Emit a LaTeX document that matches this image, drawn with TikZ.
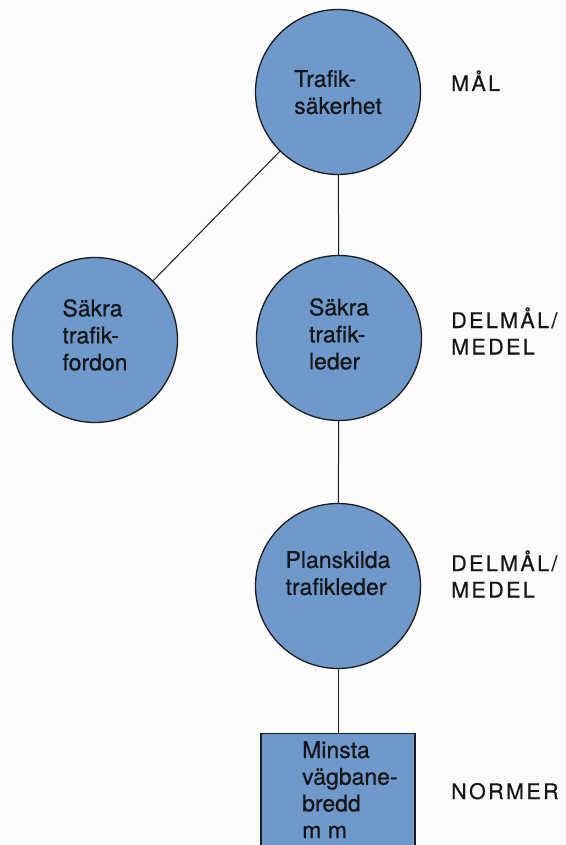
\documentclass[tikz,border=0pt]{standalone}
\usepackage{fontspec}
\setmainfont{TeX Gyre Heros}[FakeBold=0.6]
\newfontfamily\labelfont{TeX Gyre Heros}[LetterSpace=11,FakeBold=0.5]

\definecolor{diskfill}{RGB}{110,153,202}
\definecolor{inkline}{RGB}{28,28,30}
\definecolor{inktext}{RGB}{22,22,24}
\definecolor{paper}{RGB}{251,251,249}

% left-aligned block of lines, optionally raised without changing its box
\newcommand\txtblock[2][0pt]{\raisebox{#1}[\height][\depth]{\begin{tabular}{@{}l@{}}#2\end{tabular}}}
% level labels in the right margin, first baseline at the node anchor
\newcommand\lvlblock[1]{\begin{tabular}[t]{@{}l@{}}#1\end{tabular}}

\tikzset{
  disk/.style={circle, draw=inkline, line width=1.3pt, fill=diskfill,
    minimum size=165pt, inner sep=0pt, text=inktext,
    font=\fontsize{23}{27}\selectfont},
  normbox/.style={rectangle, draw=inkline, line width=1.3pt, fill=diskfill,
    minimum width=154pt, minimum height=154pt, inner sep=0pt, anchor=north},
  normtxt/.style={anchor=base west, inner sep=0pt, text=inktext,
    font=\fontsize{23}{26.7}\selectfont},
  lvl/.style={anchor=base west, inner sep=0pt, text=inktext,
    font=\fontsize{21.5}{26.5}\selectfont\labelfont},
  link/.style={draw=inkline, line width=1pt},
}

\begin{document}
\begin{tikzpicture}[x=1pt, y=-1pt]
  \fill[paper] (0,0) rectangle (565,845);
  \useasboundingbox (0,0) rectangle (565,845);
  \clip (0,0) rectangle (565,845);

  % goal and sub-goals
  \node[disk] (goal)  at (338,92)  {\txtblock[-3pt]{Trafik-\\säkerhet}};
  \node[disk] (veh)   at (95,340)  {\txtblock[2pt]{Säkra\\trafik-\\fordon}};
  \node[disk] (roads) at (339,338) {\txtblock[1pt]{Säkra\\trafik-\\leder}};
  \node[disk] (sep)   at (338,586) {\txtblock[10pt]{Planskilda\\trafikleder}};

  % norm box, running off the bottom edge
  \node[normbox] (norm) at (338,733) {};
  \node[normtxt] (normtext) at (302,758) {\lvlblock{Minsta\\vägbane-\\bredd\\m m}};

  % connectors
  \draw[link] (goal) -- (veh);
  \draw[link] (goal) -- (roads);
  \draw[link] (roads) -- (sep);
  \draw[link] (sep) -- (norm);

  % level labels
  \node[lvl] (lmal)   at (451,91)  {MÅL};
  \node[lvl] (ldel1)  at (451,328) {\lvlblock{DELMÅL/\\MEDEL}};
  \node[lvl] (ldel2)  at (451,571) {\lvlblock{DELMÅL/\\MEDEL}};
  \node[lvl] (lnorm)  at (451,799) {NORMER};
\end{tikzpicture}
\end{document}
